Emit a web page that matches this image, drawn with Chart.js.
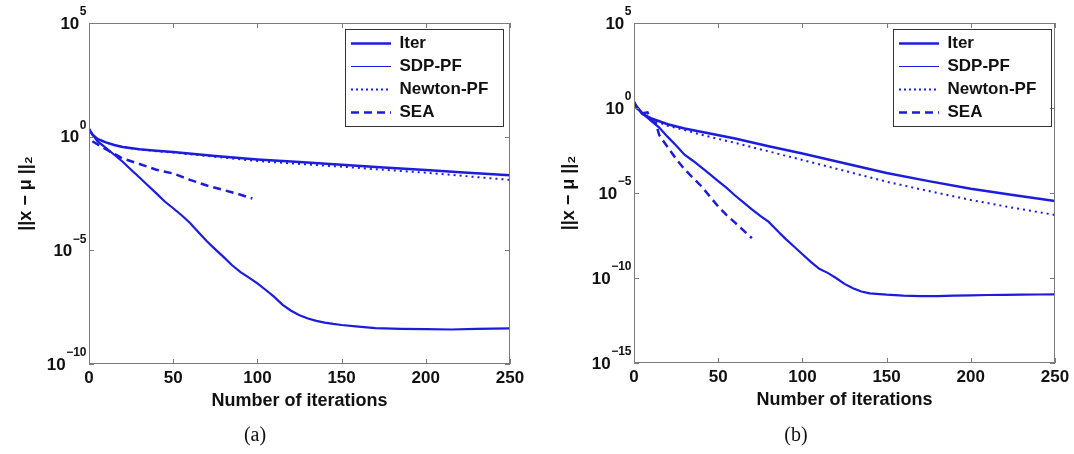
<!DOCTYPE html>
<html>
<head>
<meta charset="utf-8">
<script src="https://cdn.jsdelivr.net/npm/chart.js@4.4.1/dist/chart.umd.min.js"></script>
<style>
  body { margin: 0; background: #fff; }
  .panel { position: absolute; top: 0; width: 537px; height: 454px; }
  #wrapA { left: 0; }
  #wrapB { left: 537px; }
</style>
</head>
<body>
<div class="panel" id="wrapA"><canvas id="chartA" width="537" height="454"></canvas></div>
<div class="panel" id="wrapB"><canvas id="chartB" width="537" height="454"></canvas></div>
<script>
// ---- panel (a) ----
const iterXa = [0, 2, 5, 10, 15, 20, 30, 40, 50, 75, 100, 125, 150, 175, 200, 225, 250];
const iterYa = [2.2, 1.26, 0.79, 0.56, 0.43, 0.35, 0.28, 0.24, 0.21, 0.14, 0.10, 0.076, 0.058, 0.044, 0.034, 0.026, 0.020];
const newtonYa = [2.2, 1.26, 0.79, 0.56, 0.43, 0.35, 0.275, 0.23, 0.20, 0.13, 0.085, 0.063, 0.048, 0.035, 0.026, 0.018, 0.0126];
const sdpXa = [0, 5, 10, 15, 20, 25, 30, 35, 40, 45, 50, 55, 60, 65, 70, 75, 80, 85, 90, 95, 100,
  105, 110, 115, 120, 125, 130, 135, 140, 145, 150, 160, 170, 185, 200, 215, 230, 250];
const sdpYa = [2.0, 0.63, 0.32, 0.16, 0.079, 0.035, 0.016, 7.1e-3, 3.2e-3, 1.4e-3, 7.1e-4, 3.5e-4, 1.6e-4,
  6.3e-5, 2.5e-5, 1.1e-5, 5.0e-6, 2.2e-6, 1.1e-6, 6.3e-7, 3.5e-7, 1.8e-7, 8.9e-8, 4.0e-8, 2.2e-8,
  1.4e-8, 1.0e-8, 7.9e-9, 6.6e-9, 5.8e-9, 5.2e-9, 4.4e-9, 3.8e-9, 3.5e-9, 3.4e-9, 3.3e-9, 3.5e-9, 3.7e-9];
const seaXa = [2, 10, 20, 30, 40, 50, 60, 70, 80, 90, 97];
const seaYa = [0.63, 0.28, 0.11, 0.063, 0.035, 0.024, 0.0126, 0.0071, 0.0045, 0.0028, 0.0019];

// ---- panel (b) ----
const iterXb = [0, 2, 5, 10, 20, 30, 45, 60, 80, 100, 125, 150, 175, 200, 225, 250];
const iterYb = [2.3, 1.0, 0.45, 0.25, 0.11, 0.063, 0.032, 0.016, 5.6e-3, 2.1e-3, 5.6e-4, 1.5e-4, 5.0e-5, 1.8e-5, 7.6e-6, 3.4e-6];
const newtonYb = [2.3, 1.0, 0.45, 0.22, 0.089, 0.050, 0.020, 8.9e-3, 2.8e-3, 8.7e-4, 2.0e-4, 4.6e-5, 1.3e-5, 3.9e-6, 1.35e-6, 5.1e-7];
const sdpXb = [0, 5, 10, 15, 20, 25, 30, 35, 40, 45, 50, 55, 60, 65, 70, 75, 80, 85, 90, 95, 100,
  105, 110, 115, 120, 125, 130, 135, 140, 150, 160, 170, 180, 190, 200, 210, 220, 230, 240, 250];
const sdpYb = [2.0, 0.50, 0.18, 0.071, 0.020, 6.3e-3, 1.8e-3, 7.9e-4, 3.2e-4, 1.3e-4, 5.0e-5, 2.0e-5, 7.1e-6,
  2.8e-6, 1.1e-6, 4.5e-7, 2.0e-7, 6.3e-8, 2.0e-8, 7.1e-9, 2.5e-9, 8.9e-10, 3.5e-10, 2.0e-10, 1.0e-10,
  4.5e-11, 2.5e-11, 1.6e-11, 1.26e-11, 1.05e-11, 9.3e-12, 8.7e-12, 8.7e-12, 9.1e-12, 9.5e-12, 1.0e-11,
  1.02e-11, 1.05e-11, 1.07e-11, 1.1e-11];
const seaXb = [0, 3, 5, 8, 10, 13, 15, 20, 25, 30, 35, 40, 45, 50, 55, 60, 65, 70];
const seaYb = [2.0, 0.63, 0.50, 0.56, 0.20, 0.126, 0.025, 5.0e-3, 1.0e-3, 2.5e-4, 7.9e-5, 2.5e-5, 6.3e-6,
  1.6e-6, 5.0e-7, 1.8e-7, 6.3e-8, 2.2e-8];

// ---- axes ----
const seriesNames = ["Iter", "SDP-PF", "Newton-PF", "SEA"];
const xTicks = [0, 50, 100, 150, 200, 250];
const yTicksA = [1e-10, 1e-5, 1e0, 1e5];
const yExpA = ["−10", "−5", "0", "5"];
const yTicksB = [1e-15, 1e-10, 1e-5, 1e0, 1e5];
const yExpB = ["−15", "−10", "−5", "0", "5"];

const BLUE = "#1c1cdc";
const FONT = "'Liberation Sans', Arial, sans-serif";

function pts(xs, ys) {
    return xs.map((x, i) => ({ x: x, y: ys[i] }));
}

// MATLAB style box with inward ticks, 10^n tick labels and legend frame
const boxFrame = {
    id: "boxFrame",
    afterLayout(chart) {
        const lg = chart.legend;
        const o = chart.options.plugins.boxFrame;
        lg.left = o.legendLeft;
        lg.top = o.legendTop;
        lg.right = o.legendLeft + 170;
        lg.bottom = o.legendTop + 140;
    },
    afterDatasetsDraw(chart) {
        const { ctx, chartArea: a, scales } = chart;
        const o = chart.options.plugins.boxFrame;
        ctx.save();
        ctx.strokeStyle = "#7b7b7b";
        ctx.lineWidth = 1;
        ctx.strokeRect(a.left + 0.5, a.top + 0.5, a.width - 1, a.height - 1);
        ctx.beginPath();
        scales.x.ticks.forEach((t) => {
            const px = Math.round(scales.x.getPixelForValue(t.value)) + 0.5;
            ctx.moveTo(px, a.bottom); ctx.lineTo(px, a.bottom - 5);
            ctx.moveTo(px, a.top); ctx.lineTo(px, a.top + 5);
        });
        scales.y.ticks.forEach((t) => {
            const py = Math.round(scales.y.getPixelForValue(t.value)) + 0.5;
            ctx.moveTo(a.left, py); ctx.lineTo(a.left + 5, py);
            ctx.moveTo(a.right, py); ctx.lineTo(a.right - 5, py);
        });
        ctx.stroke();

        // y tick labels as 10 with raised exponent
        ctx.fillStyle = "#111";
        ctx.textBaseline = "middle";
        ctx.textAlign = "left";
        scales.y.ticks.forEach((t) => {
            const i = o.yTicks.indexOf(t.value);
            if (i < 0) return;
            const py = scales.y.getPixelForValue(t.value);
            ctx.font = "bold 17px " + FONT;
            const wBase = ctx.measureText("10").width;
            ctx.font = "bold 12px " + FONT;
            const wExp = ctx.measureText(o.yExp[i]).width;
            const x0 = a.left - 3 - wBase - wExp;
            ctx.font = "bold 17px " + FONT;
            ctx.fillText("10", x0, py + 1);
            ctx.font = "bold 12px " + FONT;
            ctx.fillText(o.yExp[i], x0 + wBase + 0.5, py - 11);
        });

        // legend border
        ctx.strokeStyle = "#333";
        ctx.strokeRect(o.legendLeft + 0.5, o.legendTop + 0.5, o.legendW, o.legendH);
        ctx.restore();
    }
};

function makeChart(id, cfg) {
    const legendWidths = [2.5, 1, 2, 2.5];
    const legendDash = [[], [], [2, 3], [8, 5]];
    return new Chart(document.getElementById(id), {
        type: "line",
        plugins: [boxFrame],
        data: {
            datasets: [
                { label: seriesNames[0], data: pts(cfg.iterX, cfg.iterY), borderColor: BLUE, borderWidth: 2.5 },
                { label: seriesNames[1], data: pts(cfg.sdpX, cfg.sdpY), borderColor: BLUE, borderWidth: 2.2 },
                { label: seriesNames[2], data: pts(cfg.iterX, cfg.newtonY), borderColor: BLUE, borderWidth: 2, borderDash: [2, 4] },
                { label: seriesNames[3], data: pts(cfg.seaX, cfg.seaY), borderColor: BLUE, borderWidth: 2.5, borderDash: [8, 5] }
            ]
        },
        options: {
            responsive: false,
            animation: false,
            devicePixelRatio: 1,
            elements: { point: { radius: 0 }, line: { tension: 0, fill: false } },
            layout: { padding: { left: 0, right: cfg.padRight, top: 23, bottom: 0 } },
            scales: {
                x: {
                    type: "linear",
                    min: 0,
                    max: 250,
                    grid: { display: false, drawTicks: false },
                    border: { display: false },
                    afterBuildTicks: (s) => { s.ticks = xTicks.map((v) => ({ value: v })); },
                    afterFit: (s) => { s.height = 50; },
                    ticks: { padding: 4, color: "#111", font: { family: FONT, size: 17, weight: "bold" } },
                    title: {
                        display: true,
                        text: "Number of iterations",
                        color: "#111",
                        padding: { top: 0, bottom: 2 },
                        font: { family: FONT, size: 18, weight: "bold" }
                    }
                },
                y: {
                    type: "logarithmic",
                    min: cfg.yTicks[0],
                    max: 1e5,
                    grid: { display: false, drawTicks: false },
                    border: { display: false },
                    afterBuildTicks: (s) => { s.ticks = cfg.yTicks.map((v) => ({ value: v })); },
                    afterFit: (s) => { s.width = cfg.axisW; },
                    ticks: { display: false, autoSkip: false },
                    title: {
                        display: true,
                        text: "||x − μ ||₂",
                        color: "#111",
                        padding: { top: cfg.yTitlePad, bottom: 0 },
                        font: { family: FONT, size: 18, weight: "bold" }
                    }
                }
            },
            plugins: {
                boxFrame: {
                    legendLeft: cfg.legendLeft, legendTop: 29, legendW: 158, legendH: 97,
                    yTicks: cfg.yTicks, yExp: cfg.yExp
                },
                legend: {
                    position: "chartArea",
                    align: "start",
                    labels: {
                        usePointStyle: true,
                        pointStyle: "line",
                        pointStyleWidth: 40,
                        padding: 6,
                        color: "#111",
                        font: { family: FONT, size: 17, weight: "bold" },
                        generateLabels(chart) {
                            const items = Chart.defaults.plugins.legend.labels.generateLabels(chart);
                            items.forEach((it) => {
                                it.lineWidth = legendWidths[it.datasetIndex];
                                it.lineDash = legendDash[it.datasetIndex];
                            });
                            return items;
                        }
                    }
                },
                title: {
                    display: true,
                    position: "bottom",
                    text: cfg.caption,
                    color: "#111",
                    padding: { top: cfg.capPadTop, bottom: 6 },
                    font: { family: "'Liberation Serif', 'Times New Roman', serif", size: 20, weight: "normal" }
                },
                tooltip: { enabled: false }
            }
        }
    });
}

makeChart("chartA", {
    iterX: iterXa, iterY: iterYa, newtonY: newtonYa, sdpX: sdpXa, sdpY: sdpYa, seaX: seaXa, seaY: seaYa,
    yTicks: yTicksA, yExp: yExpA, axisW: 89, padRight: 27, yTitlePad: 15,
    legendLeft: 345, caption: "(a)", capPadTop: 10
});
makeChart("chartB", {
    iterX: iterXb, iterY: iterYb, newtonY: newtonYb, sdpX: sdpXb, sdpY: sdpYb, seaX: seaXb, seaY: seaYb,
    yTicks: yTicksB, yExp: yExpB, axisW: 97, padRight: 19, yTitlePad: 21,
    legendLeft: 356, caption: "(b)", capPadTop: 11
});
</script>
</body>
</html>
